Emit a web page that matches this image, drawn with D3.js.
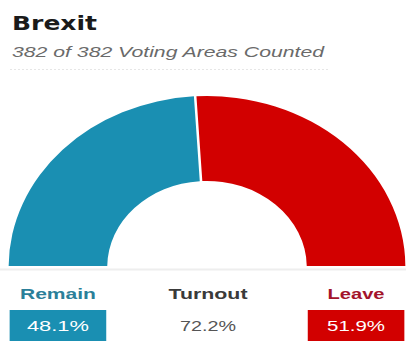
<!DOCTYPE html>
<html>
<head>
<meta charset="utf-8">
<script src="https://cdn.jsdelivr.net/npm/d3@7/dist/d3.min.js"></script>
<style>
  html, body { margin: 0; padding: 0; background: #fff; }
  svg { display: block; }
</style>
</head>
<body>
<div id="chart"></div>
<script>
// Referendum result data
const title = "Brexit";
const areasCounted = 382;
const areasTotal = 382;
const sides = ["Remain", "Leave"];
const shares = [48.1, 51.9];
const sideColors = ["#1a8fb2", "#d20000"];
const labelColors = ["#2b7f99", "#a3142b"];
const turnoutLabel = "Turnout";
const turnout = [72.2];

const W = 406, H = 349;
const svg = d3.select("#chart").append("svg")
  .attr("width", W).attr("height", H);

const FONT = "Liberation Sans, Arial, sans-serif";

// text drawn with a fixed rendered width (the layout uses wide lettering)
function label(x, y, str, opts) {
  const t = svg.append("text")
    .attr("x", x).attr("y", y)
    .attr("text-anchor", opts.anchor || "middle")
    .attr("font-family", opts.family || FONT)
    .attr("font-size", opts.size || 15)
    .attr("fill", opts.fill || "#333")
    .text(str);
  if (opts.weight) t.attr("font-weight", opts.weight);
  if (opts.style) t.attr("font-style", opts.style);
  if (opts.width) t.attr("textLength", opts.width).attr("lengthAdjust", "spacingAndGlyphs");
  return t;
}

// Header
label(12, 30, title, {
  anchor: "start", family: "DejaVu Sans, Verdana, sans-serif",
  weight: "bold", size: 20, fill: "#1a1a1a", width: 85
});
label(12, 57, `${areasCounted} of ${areasTotal} Voting Areas Counted`, {
  anchor: "start", style: "italic", size: 14, fill: "#6a6a6a", width: 312
});

svg.append("line")
  .attr("x1", 10).attr("x2", 328).attr("y1", 69.5).attr("y2", 69.5)
  .attr("stroke", "#e6e6e6").attr("stroke-width", 1)
  .attr("stroke-dasharray", "2,2");

// Half-donut gauge
const cx = 207, cy = 267;
const outerR = 171, innerR = 86;
const sx = 1.16; // horizontal stretch of the gauge

svg.append("line")
  .attr("x1", 0).attr("x2", W).attr("y1", cy + 2.5).attr("y2", cy + 2.5)
  .attr("stroke", "#eeeeee").attr("stroke-width", 2);

const pie = d3.pie().sort(null)
  .startAngle(-Math.PI / 2).endAngle(Math.PI / 2);
const arc = d3.arc()
  .innerRadius(innerR).outerRadius(outerR)
  .padAngle(2.2 / outerR).padRadius(outerR);

const gauge = svg.append("g")
  .attr("transform", `translate(${cx},${cy}) scale(${sx},1)`);
gauge.selectAll("path")
  .data(pie(shares))
  .join("path")
  .attr("d", arc)
  .attr("fill", (d, i) => sideColors[i]);

// Result labels under each side of the band
const bandX = d3.scaleOrdinal()
  .domain(sides)
  .range([
    [cx - outerR * sx, cx - innerR * sx],
    [cx + innerR * sx, cx + outerR * sx]
  ]);

const nameWidths = [76, 57];
const valueWidths = [62, 58];
const boxTop = 310, boxH = 31;
sides.forEach((s, i) => {
  const [x0, x1] = bandX(s);
  const mid = (x0 + x1) / 2;
  label(mid, 299, s, {
    weight: "bold", size: 15, fill: labelColors[i], width: nameWidths[i]
  });
  svg.append("rect")
    .attr("x", x0 + 1).attr("y", boxTop)
    .attr("width", x1 - x0 - 2).attr("height", boxH)
    .attr("fill", sideColors[i]);
  label(mid, boxTop + boxH / 2 + 5.5, d3.format(".1f")(shares[i]) + "%", {
    size: 15, fill: "#fff", width: valueWidths[i]
  });
});

label(cx + 1, 299, turnoutLabel, {
  weight: "bold", size: 15, fill: "#3a3a3a", width: 79
});
label(cx + 1, 331, d3.format(".1f")(turnout[0]) + "%", {
  size: 15, fill: "#555", width: 56
});
</script>
</body>
</html>
